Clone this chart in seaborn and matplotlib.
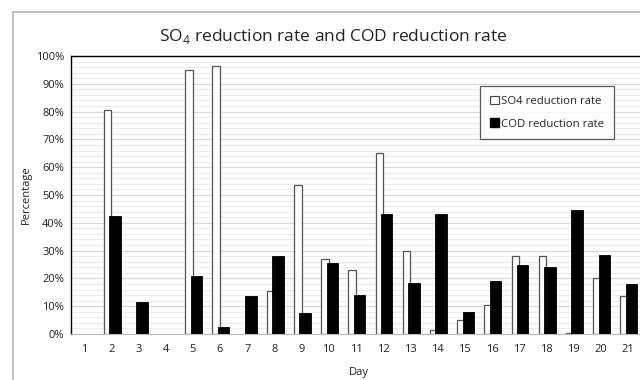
import matplotlib
matplotlib.use("Agg")
import matplotlib.pyplot as plt
import matplotlib.patches as mpatches
from matplotlib.ticker import MultipleLocator, PercentFormatter
import seaborn as sns
import pandas as pd

days = [str(d) for d in range(1, 22)]
so4_rate = [0, 80.5, 0, 0, 95, 96.5, 0, 15.5, 53.5, 27, 23, 65, 30, 1.5, 5, 10.5, 28, 28, 0.3, 20, 13.5]
cod_rate = [0, 42.5, 11.5, 0, 21, 2.5, 13.5, 28, 7.5, 25.5, 14, 43, 18.5, 43, 8, 19, 25, 24, 44.5, 28.5, 18]
series_names = ["SO4 reduction rate", "COD reduction rate"]

df = pd.DataFrame({
    "Day": days * 2,
    "value": so4_rate + cod_rate,
    "series": [series_names[0]] * len(days) + [series_names[1]] * len(days),
})

sns.set_style("white")
plt.rcParams["font.family"] = ["Open Sans", "DejaVu Sans"]

fig = plt.figure(figsize=(6.4, 3.8), dpi=100)
W, H = 640, 380
ax = fig.add_axes([71 / W, (H - 334) / H, (646 - 71) / W, (334 - 56) / H])

sns.barplot(data=df, x="Day", y="value", hue="series", order=days,
            hue_order=series_names, palette=["white", "black"],
            width=0.6, dodge=True, errorbar=None, legend=False, ax=ax,
            saturation=1)

# style the bars
n = len(days)
for i, p in enumerate(ax.patches[:2 * n]):
    c = p.get_x() + p.get_width() / 2
    if i < n:
        w = 0.28
        p.set_x(c - w / 2 + 0.01)
        p.set_width(w)
        p.set_edgecolor("#555555")
        p.set_linewidth(0.9)
        p.set_facecolor("white")
        p.set_zorder(2)
    else:
        w = 0.42
        p.set_x(c - w / 2 - 0.02)
        p.set_width(w)
        p.set_edgecolor("black")
        p.set_linewidth(0.6)
        p.set_facecolor("black")
        p.set_zorder(3)
    if p.get_height() <= 0:
        p.set_visible(False)

ax.set_xlim(-0.48, 20.66)
ax.set_ylim(0, 100)
ax.yaxis.set_major_locator(MultipleLocator(10))
ax.yaxis.set_minor_locator(MultipleLocator(2))
ax.yaxis.set_major_formatter(PercentFormatter(decimals=0))
ax.grid(axis="y", which="major", color="#d9d9d9", linewidth=0.9)
ax.grid(axis="y", which="minor", color="#ececec", linewidth=0.8)
ax.set_axisbelow(True)

for s in ["left", "top"]:
    ax.spines[s].set_color("black")
    ax.spines[s].set_linewidth(1.0)
ax.spines["bottom"].set_color("#bbbbbb")
ax.spines["bottom"].set_linewidth(0.8)
ax.spines["right"].set_visible(False)

ax.tick_params(axis="both", which="both", length=0, labelsize=8, colors="#222222", pad=5)
ax.tick_params(axis="x", pad=7)
ax.set_xlabel("Day", fontsize=8, color="#222222", labelpad=9)
ax.set_ylabel("Percentage", fontsize=8, color="#222222", labelpad=3)

fig.text(333 / W, 1 - 37 / H, "SO$_\\mathregular{4}$ reduction rate and COD reduction rate",
         ha="center", va="center", fontsize=12.5, color="#222222")

handles = [mpatches.Patch(facecolor="white", edgecolor="#444444", linewidth=0.8),
           mpatches.Patch(facecolor="black", edgecolor="black")]
leg = ax.legend(handles, series_names, loc="upper left",
                bbox_to_anchor=((480 - 71) / (646 - 71), 1 - (86 - 56) / (334 - 56)),
                frameon=True, fancybox=False, fontsize=8.2, handlelength=0.8,
                handleheight=0.8, handletextpad=0.2, labelspacing=1.0,
                borderpad=0.85, borderaxespad=0)
leg.get_frame().set_edgecolor("#333333")
leg.get_frame().set_linewidth(0.9)

frame = mpatches.Rectangle((13 / W, -0.1), 1.2, 1 - 12 / H + 0.1, transform=fig.transFigure,
                           fill=False, edgecolor="#b5b5b5", linewidth=1.2, clip_on=False)
fig.add_artist(frame)

fig.savefig("out.png", dpi=100)
